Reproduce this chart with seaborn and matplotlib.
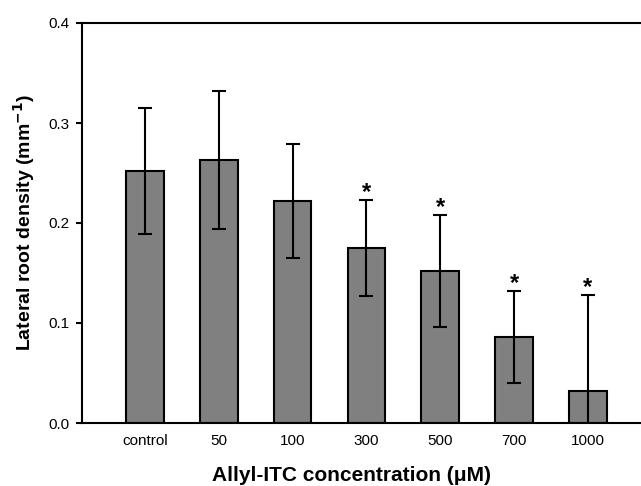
import numpy as np
import pandas as pd
import matplotlib
matplotlib.use("Agg")
import matplotlib.pyplot as plt
import seaborn as sns

# values
concentrations = ["control", "50", "100", "300", "500", "700", "1000"]
density = [0.252, 0.263, 0.222, 0.175, 0.152, 0.086, 0.032]
std_err = [0.063, 0.069, 0.057, 0.048, 0.056, 0.046, 0.096]
significant = [False, False, False, True, True, True, True]

y_ticks = [0.0, 0.1, 0.2, 0.3, 0.4]

sns.set_style("ticks")
plt.rcParams['font.family'] = ['Liberation Sans', 'DejaVu Sans']
plt.rcParams['text.color'] = 'black'
plt.rcParams['axes.labelcolor'] = 'black'

df = pd.DataFrame({"conc": concentrations, "density": density, "err": std_err})

fig = plt.figure(figsize=(6.41, 4.86), dpi=100)
ax = fig.add_axes([82 / 641, 63 / 486, 1 - 82 / 641, 400 / 486])

sns.barplot(data=df, x="conc", y="density", order=concentrations,
            color="#808080", saturation=1, width=0.51,
            edgecolor="black", linewidth=1.5, errorbar=None, ax=ax)

xpos = np.arange(len(concentrations))
ax.errorbar(xpos, df["density"], yerr=df["err"], fmt="none",
            ecolor="black", elinewidth=1.5, capsize=4.7, capthick=1.5,
            zorder=5)

# significance marks above the upper caps
for i, sig in enumerate(significant):
    if sig:
        ax.text(xpos[i], density[i] + std_err[i] + 0.001, "*",
                ha="center", va="baseline", fontsize=17, fontweight="bold",
                color="black")

ax.set_xlim(-0.854, 6.72)
ax.set_ylim(0, 0.4)
ax.set_yticks(y_ticks)
ax.set_yticklabels([f"{t:.1f}" for t in y_ticks])

for side in ["left", "bottom", "top"]:
    ax.spines[side].set_linewidth(1.5)
    ax.spines[side].set_color("black")
ax.spines["right"].set_visible(False)

ax.tick_params(axis="y", direction="out", length=4.3, width=1.5,
               labelsize=11, pad=5, colors="black")
ax.tick_params(axis="x", length=0, labelsize=11, pad=8, colors="black")

ax.set_xlabel("Allyl-ITC concentration (\u03bcM)", fontsize=15, fontweight="bold")
ax.set_ylabel("Lateral root density (mm$^{\\mathbf{-1}}$)", fontsize=14, fontweight="bold")
ax.xaxis.set_label_coords(0.483, -0.108)
ax.yaxis.set_label_coords(-0.081, 0.5)

fig.savefig("out.png", dpi=100)
plt.close(fig)
